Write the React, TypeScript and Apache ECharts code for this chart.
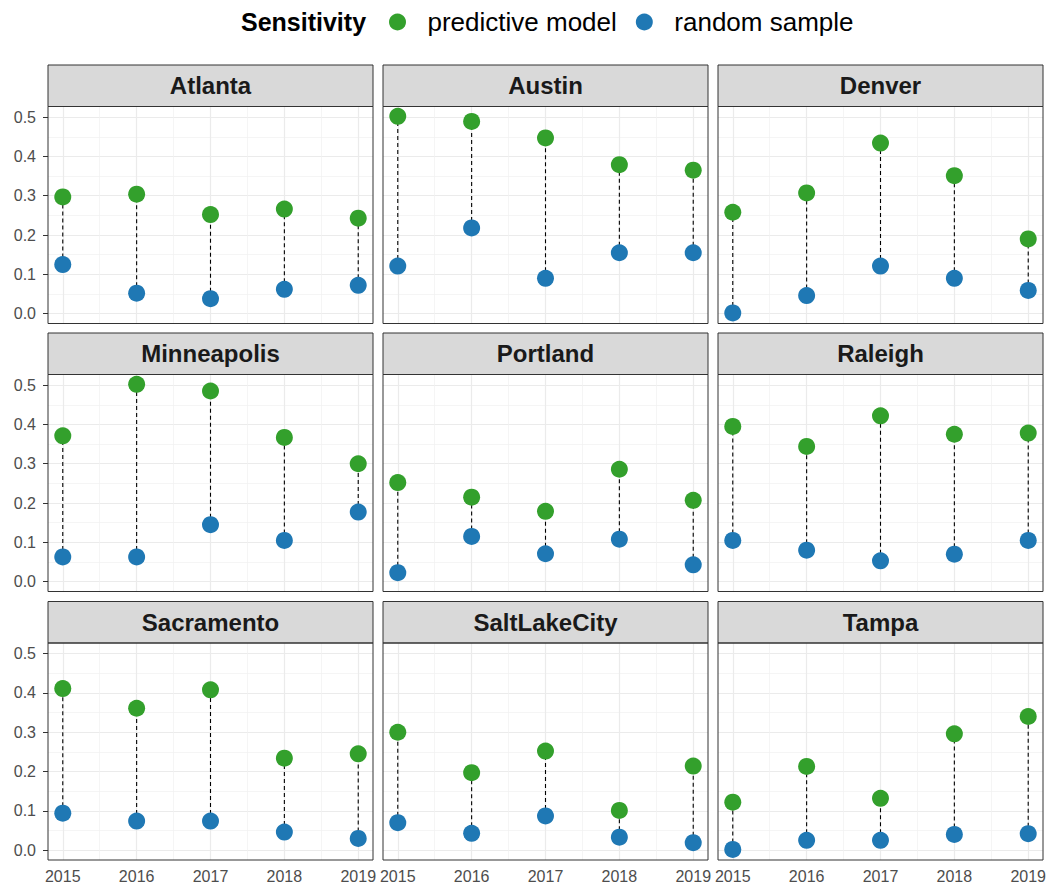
import React, { useEffect, useRef } from "react";
import * as echarts from "echarts";

const cities = ["Atlanta", "Austin", "Denver", "Minneapolis", "Portland", "Raleigh", "Sacramento", "SaltLakeCity", "Tampa"];
const years = [2015, 2016, 2017, 2018, 2019];
const yTicks = [0, 0.1, 0.2, 0.3, 0.4, 0.5];
const yMinorTicks = [0.05, 0.15, 0.25, 0.35, 0.45];
const xMinorTicks = [2015.5, 2016.5, 2017.5, 2018.5];
const seriesNames = ["predictive model", "random sample"];

const atlantaPredictive = [0.297, 0.304, 0.252, 0.266, 0.243];
const atlantaRandom = [0.125, 0.052, 0.038, 0.062, 0.072];
const austinPredictive = [0.502, 0.489, 0.447, 0.379, 0.365];
const austinRandom = [0.121, 0.218, 0.09, 0.155, 0.155];
const denverPredictive = [0.258, 0.307, 0.434, 0.351, 0.19];
const denverRandom = [0.002, 0.046, 0.121, 0.09, 0.059];
const minneapolisPredictive = [0.371, 0.502, 0.485, 0.367, 0.3];
const minneapolisRandom = [0.063, 0.063, 0.145, 0.105, 0.177];
const portlandPredictive = [0.252, 0.215, 0.179, 0.286, 0.207];
const portlandRandom = [0.023, 0.115, 0.071, 0.108, 0.043];
const raleighPredictive = [0.395, 0.344, 0.422, 0.375, 0.378];
const raleighRandom = [0.105, 0.08, 0.053, 0.07, 0.105];
const sacramentoPredictive = [0.411, 0.361, 0.408, 0.234, 0.245];
const sacramentoRandom = [0.094, 0.074, 0.074, 0.046, 0.03];
const saltLakeCityPredictive = [0.3, 0.197, 0.252, 0.101, 0.214];
const saltLakeCityRandom = [0.07, 0.043, 0.087, 0.033, 0.019];
const tampaPredictive = [0.122, 0.213, 0.132, 0.296, 0.34];
const tampaRandom = [0.002, 0.025, 0.025, 0.04, 0.042];

const predictiveByCity = [
  atlantaPredictive, austinPredictive, denverPredictive,
  minneapolisPredictive, portlandPredictive, raleighPredictive,
  sacramentoPredictive, saltLakeCityPredictive, tampaPredictive,
];
const randomByCity = [
  atlantaRandom, austinRandom, denverRandom,
  minneapolisRandom, portlandRandom, raleighRandom,
  sacramentoRandom, saltLakeCityRandom, tampaRandom,
];

const GREEN = "#33a02c";
const BLUE = "#1f78b4";
const FONT = "'Liberation Sans', Arial, sans-serif";

export default function App() {
  const ref = useRef<HTMLDivElement>(null);

  useEffect(() => {
    if (!ref.current) return;
    const chart = echarts.init(ref.current, null, { renderer: "svg" });

    const colLeft = [48, 383, 718];
    const plotTop = [106.5, 374.5, 643];
    const W = 325;
    const H = 217;
    const stripH = 41.5;

    const grids: any[] = [];
    const xAxes: any[] = [];
    const yAxes: any[] = [];
    const series: any[] = [];
    const graphics: any[] = [];

    cities.forEach((city, i) => {
      const row = Math.floor(i / 3);
      const col = i % 3;
      const left = colLeft[col];
      const top = plotTop[row];
      grids.push({ left, top, width: W, height: H, show: false, containLabel: false });
      xAxes.push({
        type: "value",
        gridIndex: i,
        min: 2014.8,
        max: 2019.2,
        axisLine: { show: false },
        splitLine: { show: false },
        axisTick: {
          show: row === 2,
          customValues: years,
          length: 5,
          lineStyle: { color: "#333333", width: 1 },
        },
        axisLabel: {
          show: row === 2,
          customValues: years,
          formatter: (v: number) => String(v),
          fontSize: 16,
          color: "#4d4d4d",
          fontFamily: FONT,
          margin: 8,
        },
      });
      yAxes.push({
        type: "value",
        gridIndex: i,
        min: -0.025,
        max: 0.527,
        axisLine: { show: false },
        splitLine: { show: false },
        axisTick: {
          show: col === 0,
          customValues: yTicks,
          length: 5,
          lineStyle: { color: "#333333", width: 1 },
        },
        axisLabel: {
          show: col === 0,
          customValues: yTicks,
          formatter: (v: number) => v.toFixed(1),
          fontSize: 16,
          color: "#4d4d4d",
          fontFamily: FONT,
          margin: 12,
        },
      });

      const pred = predictiveByCity[i];
      const rand = randomByCity[i];

      series.push({
        type: "custom",
        xAxisIndex: i,
        yAxisIndex: i,
        z: 2,
        silent: true,
        data: years.map((yr, j) => [yr, rand[j], pred[j]]),
        encode: { x: 0, y: [1, 2] },
        renderItem: (params: any, api: any) => {
          const p1 = api.coord([api.value(0), api.value(1)]);
          const p2 = api.coord([api.value(0), api.value(2)]);
          return {
            type: "line",
            shape: { x1: p1[0], y1: p1[1], x2: p2[0], y2: p2[1] },
            style: { stroke: "#000000", lineWidth: 1.1, lineDash: [4, 3] },
          };
        },
      });

      const gridLineData = [
        ...yTicks.map((v) => ({ yAxis: v, lineStyle: { color: "#ebebeb", width: 1.2, type: "solid" } })),
        ...yMinorTicks.map((v) => ({ yAxis: v, lineStyle: { color: "#f0f0f0", width: 0.7, type: "solid" } })),
        ...years.map((v) => ({ xAxis: v, lineStyle: { color: "#ebebeb", width: 1.2, type: "solid" } })),
        ...xMinorTicks.map((v) => ({ xAxis: v, lineStyle: { color: "#f0f0f0", width: 0.7, type: "solid" } })),
      ];

      series.push({
        type: "scatter",
        name: seriesNames[0],
        xAxisIndex: i,
        yAxisIndex: i,
        z: 3,
        symbolSize: 17,
        itemStyle: { color: GREEN, opacity: 1 },
        data: years.map((yr, j) => [yr, pred[j]]),
        markLine: {
          silent: true,
          z: 1,
          symbol: ["none", "none"],
          label: { show: false },
          emphasis: { disabled: true },
          animation: false,
          data: gridLineData,
        },
      });
      series.push({
        type: "scatter",
        name: seriesNames[1],
        xAxisIndex: i,
        yAxisIndex: i,
        z: 3,
        symbolSize: 17,
        itemStyle: { color: BLUE, opacity: 1 },
        data: years.map((yr, j) => [yr, rand[j]]),
      });

      // strip
      graphics.push({
        type: "rect",
        shape: { x: left, y: top - stripH, width: W, height: stripH },
        style: { fill: "#d9d9d9", stroke: "#333333", lineWidth: 1 },
        z: 100,
      });
      graphics.push({
        type: "text",
        x: left + W / 2,
        y: top - stripH / 2,
        style: {
          text: city,
          fill: "#1a1a1a",
          font: `bold 24px ${FONT}`,
          align: "center",
          verticalAlign: "middle",
        },
        z: 101,
      });
      // panel border
      graphics.push({
        type: "rect",
        shape: { x: left, y: top, width: W, height: H },
        style: { fill: "none", stroke: "#333333", lineWidth: 1 },
        z: 100,
        silent: true,
      });
    });

    graphics.push({
      type: "text",
      x: 241,
      y: 22,
      style: {
        text: "Sensitivity",
        fill: "#000000",
        font: `bold 25px ${FONT}`,
        align: "left",
        verticalAlign: "middle",
      },
      z: 101,
    });

    chart.setOption({
      animation: false,
      backgroundColor: "#ffffff",
      grid: grids,
      xAxis: xAxes,
      yAxis: yAxes,
      legend: {
        data: seriesNames,
        left: 384,
        top: 4,
        icon: "circle",
        itemWidth: 50,
        itemHeight: 17,
        itemGap: 19,
        selectedMode: false,
        textStyle: { fontSize: 26, color: "#000000", fontFamily: FONT },
      },
      series,
      graphic: graphics,
    });

    return () => {
      chart.dispose();
    };
  }, []);

  return (
    <div
      ref={ref}
      style={{ position: "fixed", left: 0, top: 0, width: 1049, height: 889, background: "#ffffff" }}
    />
  );
}
